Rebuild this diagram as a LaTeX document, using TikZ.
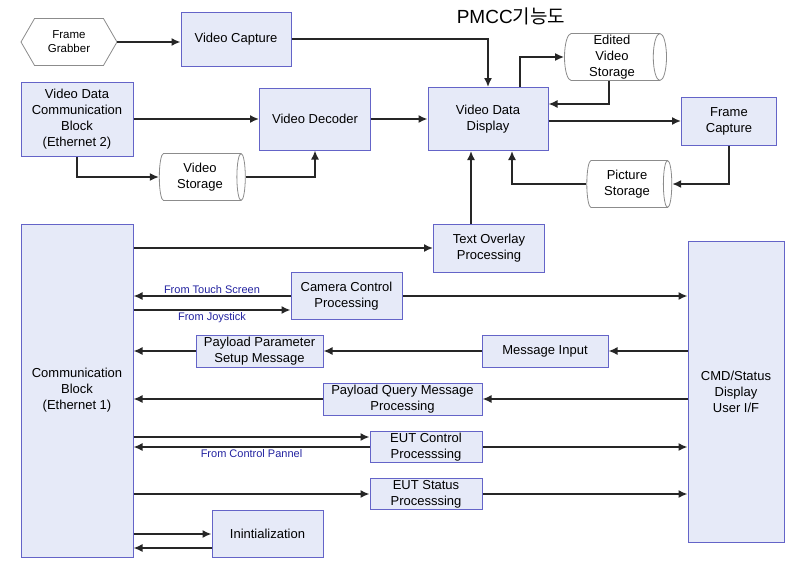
\documentclass[tikz,border=0pt]{standalone}
\usepackage{fontspec}
\setmainfont{Liberation Sans}
\newfontfamily\kor{Noto Sans CJK KR}
\usetikzlibrary{shapes.geometric,shapes.symbols,arrows.meta,calc}
\definecolor{boxfill}{RGB}{230,234,248}
\definecolor{boxline}{RGB}{100,100,200}
\definecolor{lbltext}{RGB}{35,35,160}
\begin{document}
\begin{tikzpicture}[x=1pt,y=-1pt,
    blk/.style={draw=boxline,fill=boxfill,line width=1pt,align=center,inner sep=0pt,font=\fontsize{13}{16}\selectfont},
    store/.style={cylinder,draw=black!45,fill=white,line width=0.8pt,aspect=0.3,align=center,inner sep=0pt,font=\fontsize{13}{16}\selectfont},
    grab/.style={signal,signal to=east and west,signal pointer angle=120,draw=black!45,fill=white,line width=0.8pt,align=center,inner sep=0pt,font=\fontsize{11.5}{14}\selectfont},
    lbl/.style={text=lbltext,inner sep=2pt,font=\fontsize{11}{12}\selectfont},
    wire/.style={line width=1.6pt,draw=black!85,-{Latex[length=9pt,width=8pt]}}]
    \useasboundingbox (0,0) rectangle (804,570);
    \node (ttl) at (511,16) {\fontsize{19}{22}\selectfont PMCC\kor 기능도};

    \node[grab,minimum width=96pt,minimum height=47pt] (fg) at (69,42) {Frame\\Grabber};
    \node[blk,minimum width=110pt,minimum height=54pt] (vc) at (236,39) {Video Capture};
    \node[blk,minimum width=112pt,minimum height=74pt] (vdc) at (77,119) {Video Data\\Communication\\Block\\(Ethernet 2)};
    \node[blk,minimum width=111pt,minimum height=62pt] (vdec) at (315,119) {Video Decoder};
    \node[store,minimum height=86pt,minimum width=47pt] (vs) at (200,177) {Video\\Storage};
    \node[blk,minimum width=120pt,minimum height=63pt] (vdd) at (488,119) {Video Data\\Display};
    \node[store,minimum height=102pt,minimum width=47pt] (evs) at (612,57) {Edited\\Video\\Storage};
    \node[blk,minimum width=95pt,minimum height=48pt] (fc) at (729,121) {Frame\\Capture};
    \node[store,minimum height=85pt,minimum width=47pt] (ps) at (627,184) {Picture\\Storage};
    \node[blk,minimum width=111pt,minimum height=48pt] (to) at (489,248) {Text Overlay\\Processing};

    \node[blk,minimum width=112pt,minimum height=333pt] (cb) at (77,390.5) {Communication\\Block\\(Ethernet 1)};
    \node[blk,minimum width=96pt,minimum height=301pt] (cmd) at (736,391.5) {CMD/Status\\Display\\User I/F};
    \node[blk,minimum width=111pt,minimum height=47pt] (ccp) at (346.5,296) {Camera Control\\Processing};
    \node[blk,minimum width=127pt,minimum height=32pt] (ppm) at (259.5,351) {Payload Parameter\\Setup Message};
    \node[blk,minimum width=126pt,minimum height=32pt] (mi) at (545,351) {Message Input};
    \node[blk,minimum width=159pt,minimum height=32pt] (pq) at (402.5,399) {Payload Query Message\\Processing};
    \node[blk,minimum width=112pt,minimum height=31pt] (eutc) at (426,447) {EUT Control\\Processsing};
    \node[blk,minimum width=112pt,minimum height=31pt] (euts) at (426,494) {EUT Status\\Processsing};
    \node[blk,minimum width=111pt,minimum height=47pt] (init) at (267.5,534) {Inintialization};

    \draw[wire] (fg.east) -- (fg.east -| vc.west);
    \draw[wire] (vc.east) -| (vdd.north);
    \draw[wire] (vdc.east) -- (vdec.west);
    \draw[wire] (vdc.south) |- (vs.west);
    \draw[wire] (vs.east) -| (vdec.south);
    \draw[wire] (vdec.east) -- (vdd.west);
    \draw[wire] ($(vdd.north)+(32,0)$) |- (evs.west);
    \draw[wire] ($(evs.south)+(-3,0)$) |- ($(vdd.east)+(0,-15)$);
    \draw[wire] (vdd.east |- fc.west) -- (fc.west);
    \draw[wire] (fc.south) |- (ps.east);
    \draw[wire] (ps.west) -| ($(vdd.south)+(24,0)$);
    \draw[wire] ($(to.north)+(-18,0)$) -- ($(vdd.south)+(-17,0)$);

    \draw[wire] (cb.east |- to.west) -- (to.west);
    \draw[wire] (ccp.west) -- (ccp.west -| cb.east) node[midway,above,lbl] {From Touch Screen};
    \draw[wire] ($(cb.east |- ccp.west)+(0,14)$) -- ($(ccp.west)+(0,14)$) node[midway,below,lbl] {From Joystick};
    \draw[wire] (ccp.east) -- (ccp.east -| cmd.west);
    \draw[wire] (cmd.west |- mi.east) -- (mi.east);
    \draw[wire] (mi.west) -- (ppm.east);
    \draw[wire] (ppm.west) -- (ppm.west -| cb.east);
    \draw[wire] (cmd.west |- pq.east) -- (pq.east);
    \draw[wire] (pq.west) -- (pq.west -| cb.east);
    \draw[wire] ($(cb.east |- eutc.west)+(0,-10)$) -- ($(eutc.west)+(0,-10)$);
    \draw[wire] (eutc.west) -- (eutc.west -| cb.east) node[midway,below,lbl] {From Control Pannel};
    \draw[wire] (eutc.east) -- (eutc.east -| cmd.west);
    \draw[wire] (cb.east |- euts.west) -- (euts.west);
    \draw[wire] (euts.east) -- (euts.east -| cmd.west);
    \draw[wire] (cb.east |- init.west) -- (init.west);
    \draw[wire] ($(init.west)+(0,14)$) -- ($(cb.east |- init.west)+(0,14)$);
\end{tikzpicture}
\end{document}
